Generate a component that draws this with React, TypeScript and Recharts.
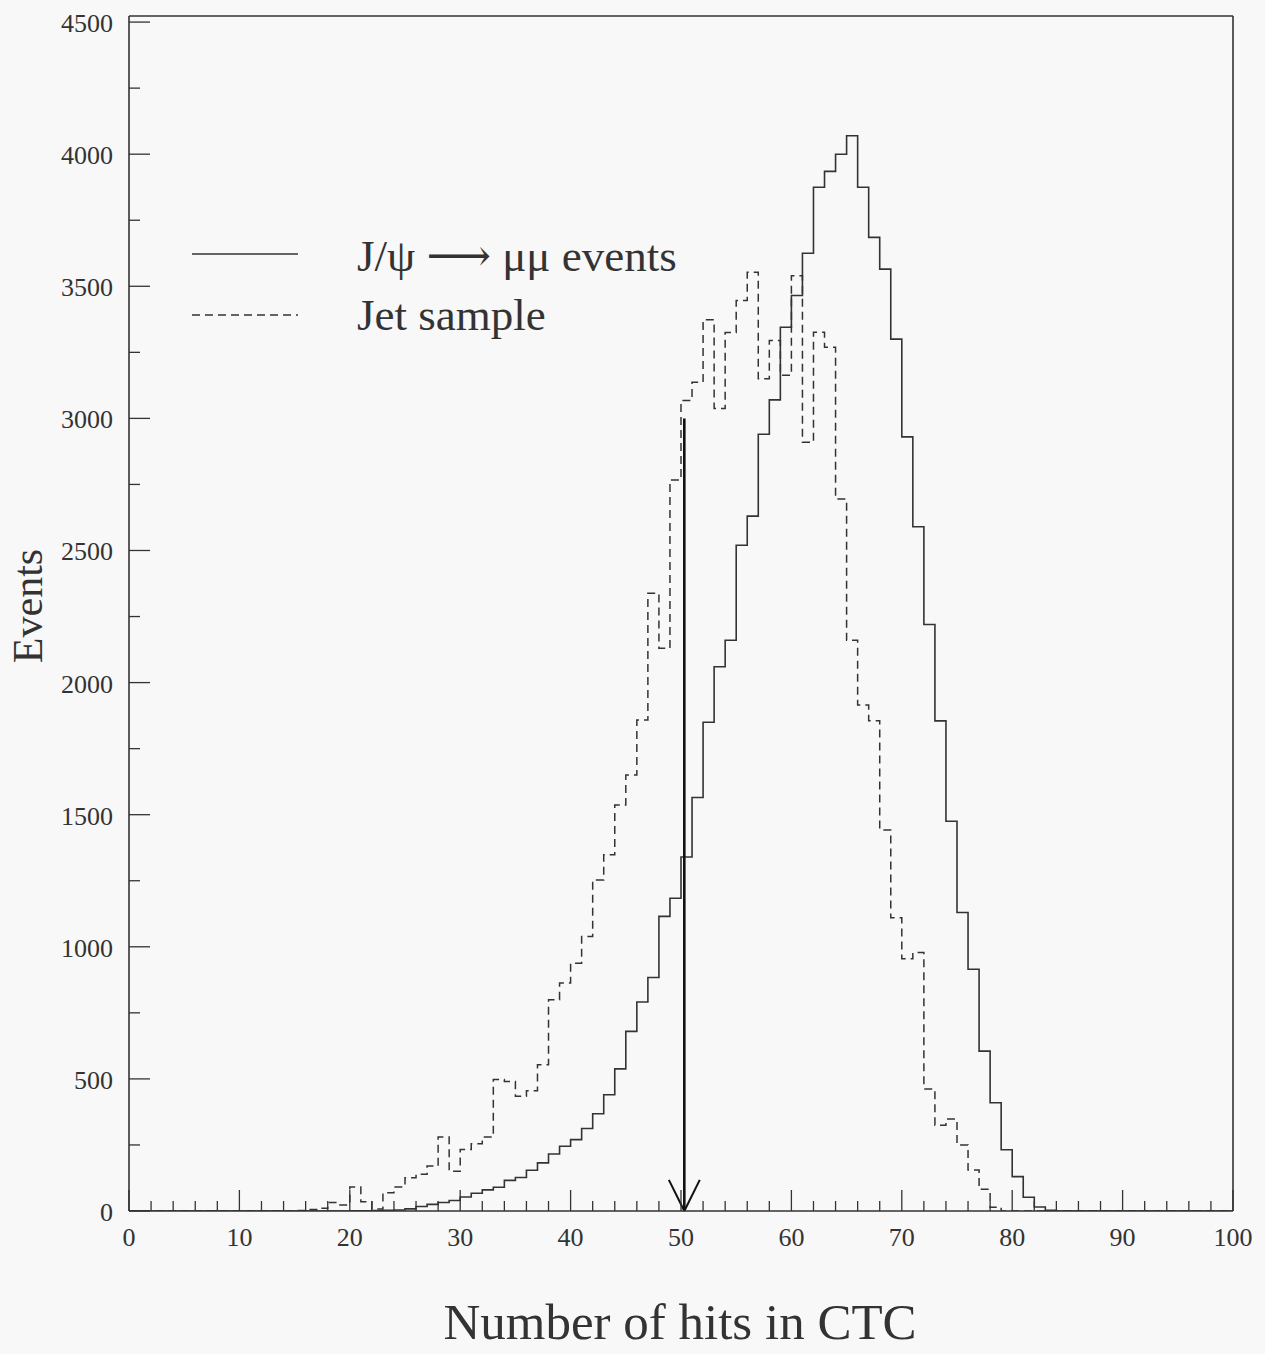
import React from "react";
import { LineChart, Line, XAxis, YAxis, ReferenceLine } from "recharts";

// Bin low edges (bins are 1 hit wide)
const binEdges = [
  0, 1, 2, 3, 4, 5, 6, 7, 8, 9, 10, 11, 12, 13, 14, 15, 16, 17, 18, 19,
  20, 21, 22, 23, 24, 25, 26, 27, 28, 29, 30, 31, 32, 33, 34, 35, 36, 37, 38, 39,
  40, 41, 42, 43, 44, 45, 46, 47, 48, 49, 50, 51, 52, 53, 54, 55, 56, 57, 58, 59,
  60, 61, 62, 63, 64, 65, 66, 67, 68, 69, 70, 71, 72, 73, 74, 75, 76, 77, 78, 79,
  80, 81, 82, 83, 84, 85, 86, 87, 88, 89, 90, 91, 92, 93, 94, 95, 96, 97, 98, 99, 100,
];

// J/psi -> mu mu events (solid)
const jpsiCounts = [
  0, 0, 0, 0, 0, 0, 0, 0, 0, 0, 0, 0, 0, 0, 0, 0, 0, 0, 0, 0,
  1, 1, 2, 3, 4, 8, 17, 25, 32, 40, 53, 67, 80, 90, 116, 127, 154, 182, 216, 245,
  270, 312, 368, 440, 538, 680, 791, 884, 1115, 1184, 1340, 1565, 1850, 2060, 2160, 2520, 2630, 2940, 3070, 3345,
  3465, 3625, 3875, 3935, 4000, 4070, 3875, 3685, 3565, 3300, 2930, 2590, 2220, 1855, 1475, 1130, 915, 605, 410, 232,
  130, 52, 15, 3, 0, 0, 0, 0, 0, 0, 0, 0, 0, 0, 0, 0, 0, 0, 0, 0, 0,
];

// Jet sample (dashed)
const jetCounts = [
  0, 0, 0, 0, 0, 0, 0, 0, 0, 0, 0, 0, 0, 0, 0, 2, 6, 10, 32, 23,
  91, 35, 8, 69, 91, 126, 139, 170, 280, 150, 233, 255, 280, 498, 490, 434, 455, 554, 800, 863,
  938, 1039, 1253, 1348, 1537, 1650, 1858, 2338, 2130, 2767, 3068, 3137, 3373, 3037, 3325, 3446, 3553, 3150, 3295, 3163,
  3540, 2910, 3326, 3269, 2695, 2160, 1915, 1856, 1442, 1110, 955, 978, 462, 325, 348, 250, 155, 82, 14, 0,
  0, 0, 0, 0, 0, 0, 0, 0, 0, 0, 0, 0, 0, 0, 0, 0, 0, 0, 0, 0, 0,
];

const xTicks = [
  0, 2, 4, 6, 8, 10, 12, 14, 16, 18, 20, 22, 24, 26, 28, 30, 32, 34, 36, 38, 40, 42, 44, 46, 48,
  50, 52, 54, 56, 58, 60, 62, 64, 66, 68, 70, 72, 74, 76, 78, 80, 82, 84, 86, 88, 90, 92, 94, 96, 98, 100,
];
const xLabelTicks = [0, 10, 20, 30, 40, 50, 60, 70, 80, 90, 100];
const yTicks = [
  0, 250, 500, 750, 1000, 1250, 1500, 1750, 2000, 2250, 2500, 2750, 3000, 3250, 3500, 3750, 4000, 4250, 4500,
];
const yLabelTicks = [0, 500, 1000, 1500, 2000, 2500, 3000, 3500, 4000, 4500];

const cutArrow = { x: 50.3, top: 3000, tip: 0, headHalf: 1.4, headLen: 118 };

const legendItems = [
  { label: "J/\u03c8 \u27f6 \u03bc\u03bc events", dash: undefined as string | undefined },
  { label: "Jet sample", dash: "8 5" },
];

const xTitle = "Number of hits in CTC";
const yTitle = "Events";

const W = 1265;
const H = 1354;
const PLOT_LEFT = 129;
const PLOT_TOP = 16;
const PLOT_RIGHT = 1233;
const PLOT_BOTTOM = 1211;
const INK = "#333333";
const FONT = "'Liberation Serif', 'Times New Roman', 'DejaVu Serif', serif";

const data = binEdges.map((x, i) => ({
  x,
  jpsi: jpsiCounts[i] ?? 0,
  jet: jetCounts[i] ?? 0,
}));

const XTick = (props: any) => {
  const { x, payload } = props;
  const v = payload.value as number;
  const major = xLabelTicks.includes(v);
  return (
    <g>
      <line x1={x} x2={x} y1={PLOT_BOTTOM} y2={PLOT_BOTTOM - (major ? 21 : 10)} stroke={INK} strokeWidth={1.3} />
      {major && (
        <text x={x} y={PLOT_BOTTOM + 35} textAnchor="middle" fontSize={26} fontFamily={FONT} fill={INK}>
          {v}
        </text>
      )}
    </g>
  );
};

const YTick = (props: any) => {
  const { y, payload } = props;
  const v = payload.value as number;
  const major = yLabelTicks.includes(v);
  return (
    <g>
      <line x1={PLOT_LEFT} x2={PLOT_LEFT + (major ? 21 : 11)} y1={y} y2={y} stroke={INK} strokeWidth={1.3} />
      {major && (
        <text x={113} y={y + 10} textAnchor="end" fontSize={26} fontFamily={FONT} fill={INK}>
          {v}
        </text>
      )}
    </g>
  );
};

export default function App() {
  return (
    <div style={{ position: "relative", width: W, height: H, background: "#f8f8f8" }}>
      <style>{`body{margin:0;}`}</style>
      <LineChart
        width={W}
        height={H}
        data={data}
        margin={{ top: PLOT_TOP, right: W - PLOT_RIGHT, left: 0, bottom: 0 }}
      >
        <XAxis
          dataKey="x"
          type="number"
          domain={[0, 100]}
          ticks={xTicks}
          interval={0}
          height={H - PLOT_BOTTOM}
          tickLine={false}
          axisLine={{ stroke: INK, strokeWidth: 1.6 }}
          tick={<XTick />}
        />
        <YAxis
          type="number"
          domain={[0, 4523]}
          ticks={yTicks}
          interval={0}
          width={PLOT_LEFT}
          tickLine={false}
          axisLine={{ stroke: INK, strokeWidth: 1.6 }}
          tick={<YTick />}
          allowDataOverflow
        />
        <ReferenceLine y={4523} stroke={INK} strokeWidth={1.6} ifOverflow="visible" />
        <ReferenceLine x={100} stroke={INK} strokeWidth={1.6} ifOverflow="visible" />
        <Line
          dataKey="jet"
          type="stepAfter"
          stroke={INK}
          strokeWidth={1.5}
          strokeDasharray="8 5"
          dot={false}
          isAnimationActive={false}
        />
        <Line
          dataKey="jpsi"
          type="stepAfter"
          stroke={INK}
          strokeWidth={1.6}
          dot={false}
          isAnimationActive={false}
        />
        <ReferenceLine
          segment={[{ x: cutArrow.x, y: cutArrow.top }, { x: cutArrow.x, y: cutArrow.tip }]}
          stroke="#111"
          strokeWidth={2.6}
          ifOverflow="visible"
        />
        <ReferenceLine
          segment={[{ x: cutArrow.x - cutArrow.headHalf, y: cutArrow.headLen }, { x: cutArrow.x, y: cutArrow.tip }]}
          stroke="#111"
          strokeWidth={2}
          ifOverflow="visible"
        />
        <ReferenceLine
          segment={[{ x: cutArrow.x + cutArrow.headHalf, y: cutArrow.headLen }, { x: cutArrow.x, y: cutArrow.tip }]}
          stroke="#111"
          strokeWidth={2}
          ifOverflow="visible"
        />
      </LineChart>
      <svg
        width={W}
        height={H}
        style={{ position: "absolute", left: 0, top: 0, pointerEvents: "none" }}
      >
        {legendItems.map((item, i) => (
          <g key={item.label}>
            <line
              x1={192}
              x2={298}
              y1={254 + i * 61}
              y2={254 + i * 61}
              stroke={INK}
              strokeWidth={1.4}
              strokeDasharray={item.dash}
            />
            <text x={357} y={271 + i * 59} fontSize={45} fontFamily={FONT} fill={INK}>
              {item.label}
            </text>
          </g>
        ))}
        <text
          x={42}
          y={606}
          transform="rotate(-90 42 606)"
          textAnchor="middle"
          fontSize={42}
          fontFamily={FONT}
          fill={INK}
        >
          {yTitle}
        </text>
        <text x={680} y={1339} textAnchor="middle" fontSize={51} fontFamily={FONT} fill={INK}>
          {xTitle}
        </text>
      </svg>
    </div>
  );
}
